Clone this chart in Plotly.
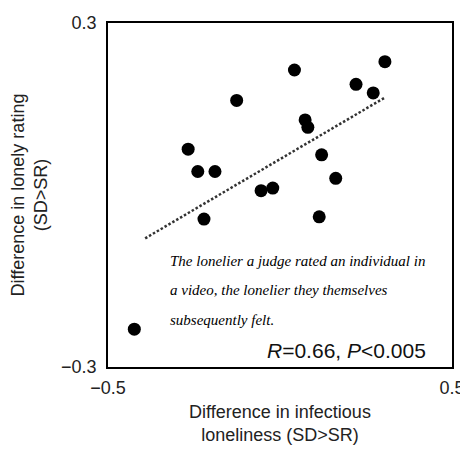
import plotly.graph_objects as go

# Data
x_infectious = [0.305, 0.042, 0.221, 0.271, -0.126, 0.073, 0.081, -0.267, 0.121,
                -0.239, -0.189, 0.162, -0.055, -0.021, -0.221, 0.114, -0.4235]
y_lonely = [0.2325, 0.218, 0.193, 0.178, 0.165, 0.131, 0.118, 0.080, 0.070,
            0.041, 0.041, 0.029, 0.0075, 0.012, -0.042, -0.038, -0.234]
fit_x = [-0.392, 0.305]
fit_y = [-0.0756, 0.170]

x_tickvals = [-0.5, 0.5]
x_ticktext = ["\u22120.5", "0.5"]
y_tickvals = [-0.3, 0.3]
y_ticktext = ["\u22120.3", "0.3"]

note_lines = ["The lonelier a judge rated an individual in",
              "a video, the lonelier they themselves",
              "subsequently felt."]
stats_text = "<i>R</i>=0.66, <i>P</i>&lt;0.005"

x_title = "Difference in infectious<br>loneliness (SD>SR)"
y_title = "Difference in lonely rating<br>(SD>SR)"

FONT = "Liberation Sans, Arial, sans-serif"

fig = go.Figure()
fig.add_trace(go.Scatter(
    x=fit_x, y=fit_y, mode="lines",
    line=dict(color="#333333", width=2.5, dash="2.5px,2px"),
    hoverinfo="skip", showlegend=False))
fig.add_trace(go.Scatter(
    x=x_infectious, y=y_lonely, mode="markers",
    marker=dict(color="black", size=13, line=dict(width=0)),
    showlegend=False))

axis_common = dict(
    showline=True, linecolor="black", linewidth=1.6, mirror=True,
    showgrid=False, zeroline=False, ticks="", automargin=False,
    tickfont=dict(family=FONT, size=18, color="#222222"),
    title_font=dict(family=FONT, size=18, color="#222222"),
)

fig.update_xaxes(range=[-0.5, 0.5], tickvals=x_tickvals, ticktext=x_ticktext,
                 ticklabelstandoff=4, title_text=x_title, title_standoff=8,
                 **axis_common)
fig.update_yaxes(range=[-0.3, 0.3], tickvals=y_tickvals, ticktext=y_ticktext,
                 ticklabelstandoff=6, title_text=y_title, title_standoff=19,
                 **axis_common)

note_y = [0.309, 0.224, 0.137]
for line, yy in zip(note_lines, note_y):
    fig.add_annotation(
        text="<i>" + line + "</i>", xref="paper", yref="paper",
        x=0.174, y=yy, xanchor="left", yanchor="middle", showarrow=False,
        font=dict(family="Liberation Serif, DejaVu Serif, serif", size=15, color="black"))

fig.add_annotation(
    text=stats_text, xref="paper", yref="paper", x=0.93, y=0.049,
    xanchor="right", yanchor="middle", showarrow=False,
    font=dict(family=FONT, size=21, color="#111111"))

fig.update_layout(
    width=460, height=446,
    margin=dict(l=100, r=16, t=15, b=87),
    plot_bgcolor="white", paper_bgcolor="white",
)

fig.write_html("out.html")
